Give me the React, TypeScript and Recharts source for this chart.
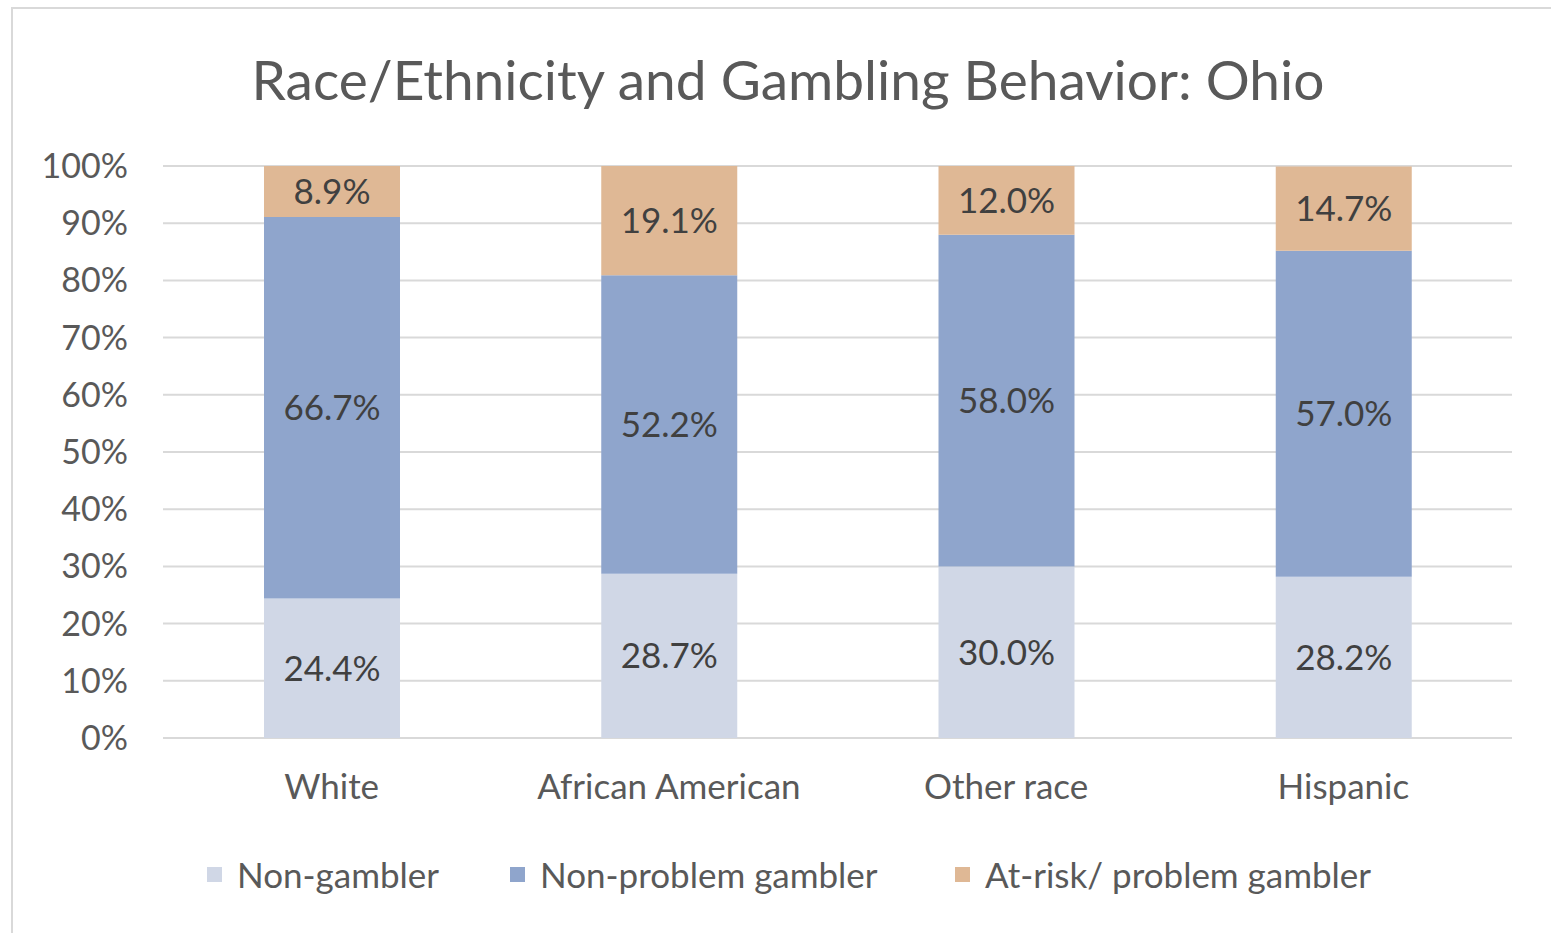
import { BarChart, Bar, XAxis, YAxis, CartesianGrid, Legend, LabelList } from "recharts";

const categories = ["White", "African American", "Other race", "Hispanic"];
const nonGambler = [24.4, 28.7, 30.0, 28.2];
const nonProblem = [66.7, 52.2, 58.0, 57.0];
const atRisk = [8.9, 19.1, 12.0, 14.7];
const yTicks = [0, 10, 20, 30, 40, 50, 60, 70, 80, 90, 100];

const seriesNames = ["Non-gambler", "Non-problem gambler", "At-risk/ problem gambler"];
const colors = ["#D0D7E6", "#8FA5CC", "#DFB895"];

const FONT = "Lato, 'Open Sans', sans-serif";
const legendWidths = [303, 445, 420];

const data = categories.map((name, i) => ({
  name,
  nonGambler: nonGambler[i],
  nonProblem: nonProblem[i],
  atRisk: atRisk[i],
}));

const pct = (v: number) => `${v.toFixed(1)}%`;

const LegendContent = () => (
  <div style={{ display: "flex", paddingLeft: 207, fontFamily: FONT, fontSize: 35, color: "#595959", whiteSpace: "nowrap" }}>
    {seriesNames.map((s, i) => (
      <div key={s} style={{ display: "flex", alignItems: "center", width: legendWidths[i], flexShrink: 0 }}>
        <div style={{ width: 15, height: 15, background: colors[i], marginRight: 15, flexShrink: 0 }} />
        <span>{s}</span>
      </div>
    ))}
  </div>
);

export default function App() {
  return (
    <div style={{ position: "absolute", left: 0, top: 0, width: 1551, height: 933, background: "#fff", overflow: "hidden" }}>
      <div
        style={{
          position: "absolute",
          left: 11,
          top: 7,
          width: 1600,
          height: 1000,
          border: "2px solid #D9D9D9",
        }}
      />
      <div
        style={{
          position: "absolute",
          left: 0,
          width: 1576,
          top: 46,
          textAlign: "center",
          fontFamily: FONT,
          fontSize: 55,
          color: "#595959",
          lineHeight: "66px",
        }}
      >
        Race/Ethnicity and Gambling Behavior: Ohio
      </div>
      <div style={{ position: "absolute", left: 0, top: 0 }}>
        <BarChart
          width={1551}
          height={933}
          data={data}
          margin={{ top: 166, right: 39, left: 0, bottom: 40 }}
          barSize={136}
        >
          <CartesianGrid horizontal vertical={false} stroke="#D9D9D9" strokeWidth={2} />
          <XAxis
            dataKey="name"
            axisLine={false}
            tickLine={false}
            tickSize={0}
            tickMargin={36}
            height={115}
            tick={{ fill: "#595959", fontSize: 35, fontFamily: FONT }}
          />
          <YAxis
            width={163}
            domain={[0, 100]}
            ticks={yTicks}
            allowDataOverflow
            axisLine={false}
            tickLine={false}
            tickSize={0}
            tickMargin={35}
            tickFormatter={(v: number) => `${v}%`}
            tick={{ fill: "#595959", fontSize: 34, fontFamily: FONT }}
          />
          <Legend verticalAlign="bottom" height={40} content={<LegendContent />} />
          <Bar dataKey="nonGambler" name={seriesNames[0]} stackId="a" fill={colors[0]} isAnimationActive={false}>
            <LabelList dataKey="nonGambler" position="center" formatter={pct} fill="#404040" fontSize={35} fontFamily={FONT} />
          </Bar>
          <Bar dataKey="nonProblem" name={seriesNames[1]} stackId="a" fill={colors[1]} isAnimationActive={false}>
            <LabelList dataKey="nonProblem" position="center" formatter={pct} fill="#404040" fontSize={35} fontFamily={FONT} />
          </Bar>
          <Bar dataKey="atRisk" name={seriesNames[2]} stackId="a" fill={colors[2]} isAnimationActive={false}>
            <LabelList dataKey="atRisk" position="center" formatter={pct} fill="#404040" fontSize={35} fontFamily={FONT} />
          </Bar>
        </BarChart>
      </div>
    </div>
  );
}
